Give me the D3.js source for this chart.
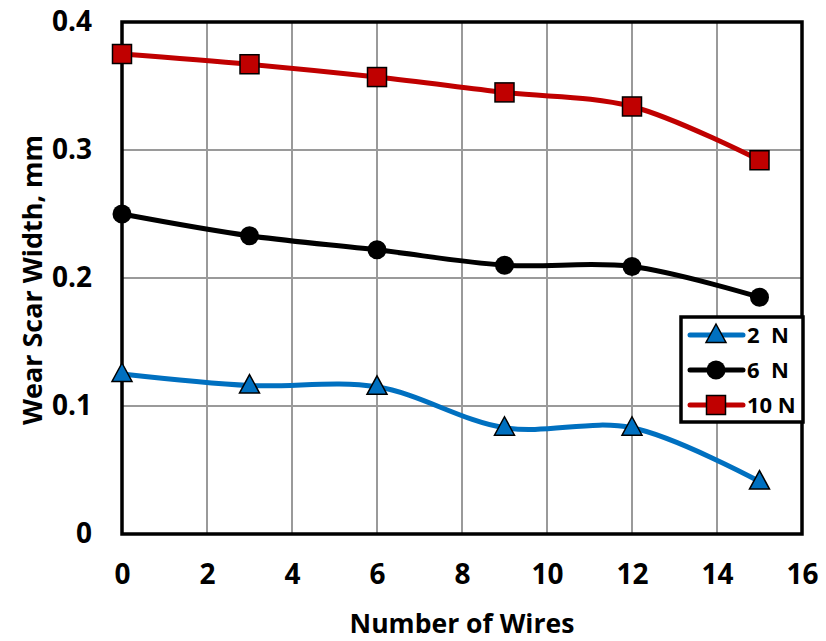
<!DOCTYPE html>
<html><head><meta charset="utf-8">
<script src="https://cdn.jsdelivr.net/npm/d3@7"></script>
<style>body{margin:0;background:#fff}svg{display:block}text{font-family:"Open Sans",sans-serif;font-weight:bold;fill:#000}</style>
</head><body><svg id="c" width="826" height="641"></svg>
<script>
const wires = [0, 3, 6, 9, 12, 15];
const s2N = [0.125, 0.116, 0.115, 0.083, 0.083, 0.041];
const s6N = [0.250, 0.233, 0.222, 0.210, 0.209, 0.185];
const s10N = [0.375, 0.367, 0.357, 0.345, 0.334, 0.292];
const seriesNames = ["2  N", "6  N", "10 N"];
const xTicks = [0, 2, 4, 6, 8, 10, 12, 14, 16];
const yTicks = [0, 0.1, 0.2, 0.3, 0.4];

const svg = d3.select("#c");
const L = 122, R = 802, T = 22, B = 534;
const x = d3.scaleLinear().domain([0, 16]).range([L, R]);
const y = d3.scaleLinear().domain([0, 0.4]).range([B, T]);
const FONT = "'Open Sans',sans-serif";

// grid
svg.append("g").selectAll("line").data(xTicks.slice(1, -1)).join("line")
  .attr("x1", d => x(d)).attr("x2", d => x(d)).attr("y1", T).attr("y2", B)
  .attr("stroke", "#9a9a9a").attr("stroke-width", 2);
svg.append("g").selectAll("line").data(yTicks.slice(1, -1)).join("line")
  .attr("x1", L).attr("x2", R).attr("y1", d => y(d)).attr("y2", d => y(d))
  .attr("stroke", "#9a9a9a").attr("stroke-width", 2);

// border
svg.append("rect").attr("x", L).attr("y", T).attr("width", R - L).attr("height", B - T)
  .attr("fill", "none").attr("stroke", "#000").attr("stroke-width", 3.5);

// axes labels
const xAxis = d3.axisBottom(x).tickValues(xTicks).tickSize(0).tickPadding(30).tickFormat(d3.format("d"));
const gx = svg.append("g").attr("transform", `translate(0,${B})`).call(xAxis);
gx.select(".domain").remove();
gx.selectAll("text").style("font-size", "28px").style("font-family", FONT).style("font-weight", "bold").attr("fill", "#000");
const yAxis = d3.axisLeft(y).tickValues(yTicks).tickSize(0).tickPadding(30).tickFormat(d => d === 0 ? "0" : d3.format(".1f")(d));
const gy = svg.append("g").attr("transform", `translate(${L},0)`).call(yAxis);
gy.select(".domain").remove();
gy.selectAll("text").style("font-size", "28px").style("font-family", FONT).style("font-weight", "bold").attr("fill", "#000");

function fit(sel, target) {
  const w = sel.node().getComputedTextLength();
  const fs = parseFloat(sel.style("font-size"));
  sel.style("font-size", (fs * target / w) + "px");
}
const xt = svg.append("text").attr("x", 462).attr("y", 633).attr("text-anchor", "middle").style("font-size", "24px").text("Number of Wires");
fit(xt, 225);
const yt = svg.append("text").attr("transform", "translate(42,280) rotate(-90)").attr("text-anchor", "middle").style("font-size", "24px").text("Wear Scar Width, mm");
fit(yt, 290);

const series = [
  {name: seriesNames[0], vals: s2N, color: "#0070C0", marker: "tri"},
  {name: seriesNames[1], vals: s6N, color: "#000000", marker: "circ"},
  {name: seriesNames[2], vals: s10N, color: "#C00000", marker: "sq"}
];
const line = d3.line().x(d => x(d[0])).y(d => y(d[1])).curve(d3.curveCatmullRom.alpha(0.5));

function marker(g, type, color, cx, cy) {
  if (type === "sq") g.append("rect").attr("x", cx - 9.5).attr("y", cy - 9.5).attr("width", 19).attr("height", 19).attr("fill", color).attr("stroke", "#000").attr("stroke-width", 1.5);
  else if (type === "circ") g.append("circle").attr("cx", cx).attr("cy", cy).attr("r", 9.5).attr("fill", "#000");
  else g.append("path").attr("d", `M${cx},${cy - 11}L${cx + 10},${cy + 7.5}L${cx - 10},${cy + 7.5}Z`).attr("fill", color).attr("stroke", "#000").attr("stroke-width", 1.5);
}

series.forEach(s => {
  const pts = wires.map((w, i) => [w, s.vals[i]]);
  svg.append("path").attr("d", line(pts)).attr("fill", "none").attr("stroke", s.color).attr("stroke-width", 5);
  const g = svg.append("g");
  pts.forEach(p => marker(g, s.marker, s.color, x(p[0]), y(p[1])));
});

// legend
const lg = svg.append("g");
lg.append("rect").attr("x", 681).attr("y", 317).attr("width", 122).attr("height", 105).attr("fill", "#fff").attr("stroke", "#000").attr("stroke-width", 3.5);
series.forEach((s, i) => {
  const cy = 335 + i * 35;
  lg.append("line").attr("x1", 690).attr("x2", 743).attr("y1", cy).attr("y2", cy).attr("stroke", s.color).attr("stroke-width", 5).attr("stroke-linecap", "round");
  marker(lg, s.marker, s.color, 716, cy);
  lg.append("text").attr("x", 747).attr("y", cy + 8).style("font-size", "22px").attr("xml:space", "preserve").style("white-space", "pre").text(s.name);
});
</script></body></html>
